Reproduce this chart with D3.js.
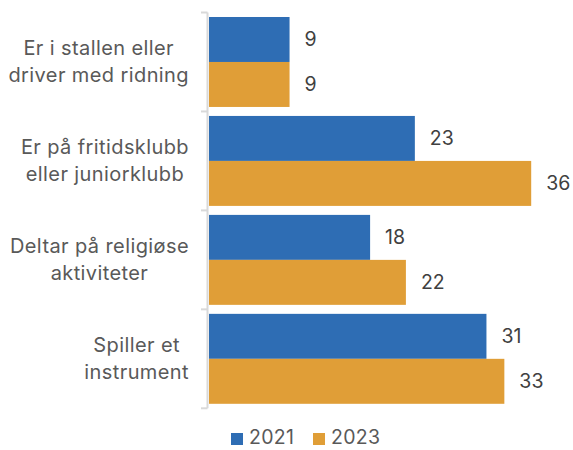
<!DOCTYPE html>
<html>
<head>
<meta charset="utf-8">
<script src="https://cdn.jsdelivr.net/npm/d3@7"></script>
<style>
  html, body { margin: 0; padding: 0; background: #fff; }
  svg { display: block; font-family: Inter, Roboto, "Noto Sans", sans-serif; }
</style>
</head>
<body>
<svg id="chart" width="573" height="450"></svg>
<script>
// Activities (multi-line category labels)
const categories = [
  ["Er i stallen eller", "driver med ridning"],
  ["Er på fritidsklubb", "eller juniorklubb"],
  ["Deltar på religiøse", "aktiviteter"],
  ["Spiller et", "instrument"]
];
const seriesNames = ["2021", "2023"];
const values2021 = [9, 23, 18, 31];
const values2023 = [9, 36, 22, 33];

const colors = { "2021": "#2e6db4", "2023": "#e09e37" };

const svg = d3.select("#chart");
const catKeys = categories.map(c => c.join(" "));

const x = d3.scaleLinear().domain([0, 40]).range([209, 567]);
const y0 = d3.scaleBand().domain(catKeys).range([12.5, 408.3]).padding(0);
const y1 = d3.scaleBand().domain(seriesNames).range([0, y0.bandwidth()])
  .paddingInner(0).paddingOuter(0.1);

const rows = [];
catKeys.forEach((k, i) => {
  rows.push({ cat: k, series: "2021", value: values2021[i] });
  rows.push({ cat: k, series: "2023", value: values2023[i] });
});

// Bars
svg.append("g").selectAll("rect").data(rows).join("rect")
  .attr("x", x(0))
  .attr("y", d => y0(d.cat) + y1(d.series))
  .attr("width", d => x(d.value) - x(0))
  .attr("height", y1.bandwidth())
  .attr("fill", d => colors[d.series]);

// Value labels
svg.append("g").selectAll("text").data(rows).join("text")
  .attr("x", d => x(d.value) + 15)
  .attr("y", d => y0(d.cat) + y1(d.series) + y1.bandwidth() / 2)
  .attr("dy", "0.35em")
  .attr("font-size", 19.5)
  .attr("fill", "#404040")
  .text(d => d.value);

// Category axis with ticks at band boundaries
const axisColor = "#d9d9d9";
const axisG = svg.append("g");
axisG.append("line")
  .attr("x1", 207.5).attr("x2", 207.5)
  .attr("y1", y0.range()[0]).attr("y2", y0.range()[1])
  .attr("stroke", axisColor).attr("stroke-width", 2);
const boundaries = catKeys.map(k => y0(k)).concat([y0.range()[1]]);
axisG.selectAll("line.tick").data(boundaries).join("line")
  .attr("class", "tick")
  .attr("x1", 201).attr("x2", 207.5)
  .attr("y1", d => d).attr("y2", d => d)
  .attr("stroke", axisColor).attr("stroke-width", 2);

// Category labels: lines centred on each other, block right-aligned
const labelRight = 189;
const lineH = 27;
categories.forEach((lines, i) => {
  const g = svg.append("g");
  const cy = y0(catKeys[i]) + y0.bandwidth() / 2;
  const t = g.selectAll("text").data(lines).join("text")
    .attr("font-size", 20)
    .attr("letter-spacing", 0.4)
    .attr("fill", "#595959")
    .attr("text-anchor", "middle")
    .attr("y", (d, j) => cy + (j - (lines.length - 1) / 2) * lineH)
    .attr("dy", "0.35em")
    .text(d => d);
  const maxW = d3.max(t.nodes(), n => n.getComputedTextLength());
  t.attr("x", labelRight - maxW / 2);
});

// Legend
const legend = svg.append("g");
const legendItems = [{ name: "2021", x: 231 }, { name: "2023", x: 313 }];
legendItems.forEach(it => {
  legend.append("rect")
    .attr("x", it.x).attr("y", 433)
    .attr("width", 12).attr("height", 12)
    .attr("fill", colors[it.name]);
  legend.append("text")
    .attr("x", it.x + 18).attr("y", 444)
    .attr("font-size", 19.5)
    .attr("letter-spacing", 0.3)
    .attr("fill", "#595959")
    .text(it.name);
});
</script>
</body>
</html>
